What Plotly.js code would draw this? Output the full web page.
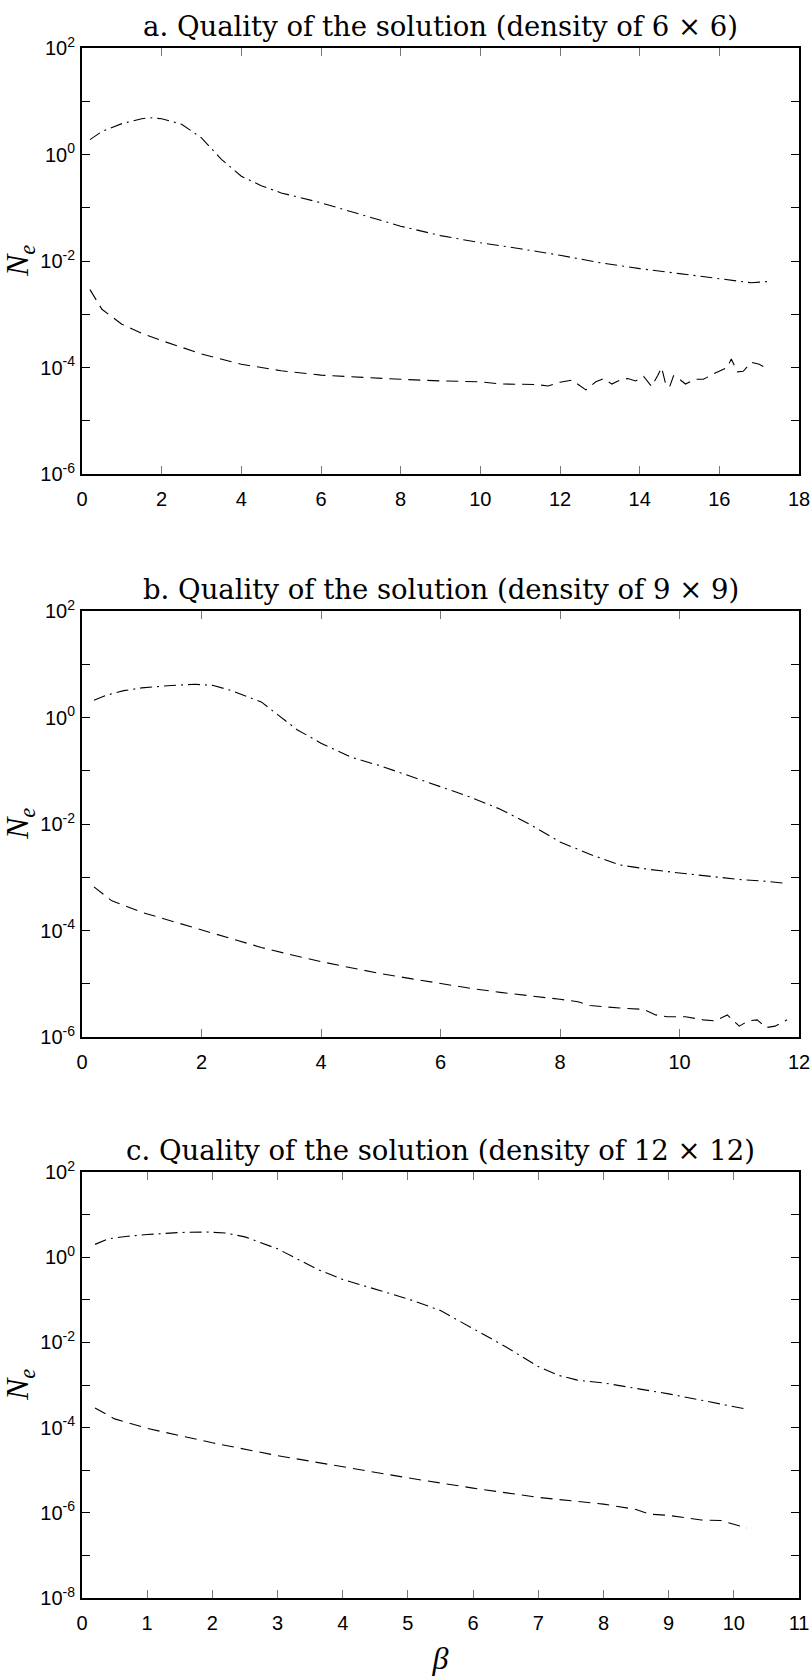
<!DOCTYPE html>
<html>
<head>
<meta charset="utf-8">
<script src="https://cdn.plot.ly/plotly-3.0.1.min.js"></script>
<style>
  html, body { margin: 0; padding: 0; background: #fff; }
  #chart { width: 812px; height: 1677px; }
</style>
</head>
<body>
<div id="chart"></div>
<script>
// ---------------- data ----------------
const titles = [
  "a. Quality of the solution (density of 6 \u00d7 6)",
  "b. Quality of the solution (density of 9 \u00d7 9)",
  "c. Quality of the solution (density of 12 \u00d7 12)"
];
const yTitle = '<i>N<sub>e</sub></i>';
const xTitle = '<i>\u03b2</i>';

// (a) density 6x6
const betaA_dashdot = [0.2,0.5,1.0,1.5,1.7,2.0,2.5,3.0,3.5,4.0,4.5,5.0,6,7,8,9,10,11,12,13,14,15,16,16.8,17.2];
const neA_dashdot   = [1.9,2.7,3.8,4.7,4.9,4.7,3.7,2.05,0.81,0.39,0.26,0.19,0.124,0.075,0.045,0.030,0.022,0.017,0.0128,0.0093,0.0072,0.0058,0.0047,0.0039,0.0041];

const betaA_dash = [0.2,0.5,1,1.5,2,3,4,5,6,7,8,9,10,10.5,11.0,11.4,11.7,12.0,12.3,12.5,12.65,12.9,13.1,13.3,13.5,13.7,13.9,14.1,14.3,14.45,14.55,14.65,14.75,14.85,15.0,15.15,15.4,15.6,15.9,16.2,16.3,16.45,16.6,16.8,17.0,17.2];
const neA_dash   = [2.9e-3,1.24e-3,6.5e-4,4.4e-4,3.2e-4,1.8e-4,1.15e-4,8.7e-5,7.2e-5,6.5e-5,6.0e-5,5.6e-5,5.4e-5,4.9e-5,4.9e-5,4.8e-5,4.5e-5,5.3e-5,5.8e-5,4.6e-5,3.8e-5,5.4e-5,6.2e-5,4.9e-5,5.8e-5,6.2e-5,5.6e-5,6.8e-5,4.4e-5,7.0e-5,1.0e-4,5.0e-5,4.3e-5,7.0e-5,6.0e-5,4.9e-5,6.0e-5,6.0e-5,7.9e-5,1.0e-4,1.45e-4,8.3e-5,8.5e-5,1.25e-4,1.15e-4,9.5e-5];

// (b) density 9x9
const betaB_dashdot = [0.2,0.4,0.7,1.0,1.5,1.9,2.2,2.5,3.0,3.3,3.6,4.0,4.5,5,5.5,6,6.5,7,7.5,8,8.5,9,9.5,10,10.5,11,11.5,11.8];
const neB_dashdot   = [2.1,2.6,3.2,3.6,4.0,4.2,4.0,3.2,1.96,1.08,0.59,0.33,0.18,0.123,0.079,0.05,0.032,0.019,0.0098,0.0046,0.0027,0.0017,0.0014,0.0012,0.00103,9.1e-4,8.3e-4,7.6e-4];

const betaB_dash = [0.2,0.5,1.0,1.5,2,2.5,3,3.5,4,4.5,5,5.5,6,6.5,7,7.5,8,8.3,8.5,9.0,9.4,9.6,9.8,10.1,10.4,10.6,10.8,11.0,11.15,11.3,11.45,11.6,11.8];
const neB_dash   = [6.6e-4,3.6e-4,2.2e-4,1.5e-4,1.0e-4,7.0e-5,4.8e-5,3.5e-5,2.6e-5,2.0e-5,1.55e-5,1.25e-5,1.0e-5,8.2e-6,6.9e-6,6.0e-6,5.1e-6,4.6e-6,3.9e-6,3.5e-6,3.3e-6,2.6e-6,2.4e-6,2.4e-6,2.1e-6,2.0e-6,2.6e-6,1.6e-6,2.0e-6,2.1e-6,1.5e-6,1.6e-6,2.1e-6];

// (c) density 12x12
const betaC_dashdot = [0.2,0.4,0.7,1.0,1.5,1.9,2.2,2.5,3.0,3.3,3.6,4.0,4.5,5.0,5.5,6.0,6.5,7.0,7.3,7.6,8.0,8.5,9.0,9.5,10.2];
const neC_dashdot   = [2.0,2.7,3.1,3.4,3.8,3.9,3.7,3.0,1.57,0.91,0.53,0.30,0.18,0.105,0.056,0.021,0.0079,0.0027,0.0017,0.0013,0.00112,8.3e-4,6.2e-4,4.4e-4,2.7e-4];

const betaC_dash = [0.2,0.5,1.0,1.5,2.0,3.0,4.0,5.0,6.0,7.0,8.0,8.5,8.7,9.0,9.5,9.8,10.2];
const neC_dash   = [2.9e-4,1.6e-4,9.6e-5,6.5e-5,4.4e-5,2.2e-5,1.2e-5,6.6e-6,3.8e-6,2.3e-6,1.6e-6,1.2e-6,9.3e-7,8.7e-7,6.8e-7,6.6e-7,4.4e-7];

// axis ranges / ticks
const xRanges = [[0,18],[0,12],[0,11]];
const xSteps  = [2,2,1];
const yExpRanges = [[-6,2],[-6,2],[-8,2]];

// ---------------- layout helpers ----------------
const W = 812, H = 1677;
const left = 82, right = 799;
const panelTops = [48, 611, 1172];
const panelH = 426;
const py = p => 1 - p / H;

const tickFont = {family: "'Liberation Sans Narrow', 'Arial Narrow', 'Liberation Sans', Arial, sans-serif", size: 20, color: '#000'};
const serif = "'Liberation Serif', 'Times New Roman', serif";

function yTicks(lo, hi) {
  const vals = [], text = [];
  for (let e = lo; e <= hi; e++) {
    vals.push(Math.pow(10, e));
    text.push((e - lo) % 2 === 0 ? '10<sup>' + e + '</sup>' : '');
  }
  return {vals, text};
}

const traces = [];
const series = [
  [betaA_dashdot, neA_dashdot, betaA_dash, neA_dash],
  [betaB_dashdot, neB_dashdot, betaB_dash, neB_dash],
  [betaC_dashdot, neC_dashdot, betaC_dash, neC_dash]
];
series.forEach((s, i) => {
  const xa = i === 0 ? 'x' : 'x' + (i + 1);
  const ya = i === 0 ? 'y' : 'y' + (i + 1);
  traces.push({x: s[0], y: s[1], xaxis: xa, yaxis: ya, type: 'scatter', mode: 'lines',
    line: {color: '#000', width: 1.1, dash: '12px,5px,2px,5px'}, hoverinfo: 'skip', showlegend: false});
  traces.push({x: s[2], y: s[3], xaxis: xa, yaxis: ya, type: 'scatter', mode: 'lines',
    line: {color: '#000', width: 1.1, dash: '12px,7px'}, hoverinfo: 'skip', showlegend: false});
});

const layout = {
  width: W, height: H,
  margin: {l: 0, r: 0, t: 0, b: 0},
  paper_bgcolor: '#fff', plot_bgcolor: '#fff',
  showlegend: false,
  annotations: []
};

for (let i = 0; i < 3; i++) {
  const sfx = i === 0 ? '' : String(i + 1);
  const top = panelTops[i], bot = top + panelH;
  const yt = yTicks(yExpRanges[i][0], yExpRanges[i][1]);
  layout['xaxis' + sfx] = {
    domain: [left / W, right / W],
    anchor: 'y' + sfx,
    range: xRanges[i],
    tickmode: 'linear', tick0: 0, dtick: xSteps[i],
    ticks: 'inside', ticklen: 8, tickwidth: 1, tickcolor: '#777',
    showline: true, linecolor: '#000', linewidth: 2, mirror: 'allticks',
    showgrid: false, zeroline: false,
    tickfont: tickFont, ticklabelstandoff: 6,
    fixedrange: true
  };
  layout['yaxis' + sfx] = {
    domain: [py(bot), py(top)],
    anchor: 'x' + sfx,
    type: 'log',
    range: yExpRanges[i],
    tickmode: 'array', tickvals: yt.vals, ticktext: yt.text,
    ticks: 'inside', ticklen: 8, tickwidth: 1, tickcolor: '#000',
    showline: true, linecolor: '#000', linewidth: 2, mirror: 'allticks',
    showgrid: false, zeroline: false,
    tickfont: tickFont, ticklabelstandoff: 1,
    fixedrange: true
  };
  // panel title
  layout.annotations.push({
    text: titles[i], xref: 'paper', yref: 'paper',
    x: (left + right) / 2 / W, y: py(top - 22),
    xanchor: 'center', yanchor: 'middle', showarrow: false,
    font: {family: "'DejaVu Serif', serif", size: 27.5, color: '#000'}
  });
  // y axis label N_e
  layout.annotations.push({
    text: yTitle, xref: 'paper', yref: 'paper',
    x: 19 / W, y: py(top + panelH / 2),
    xanchor: 'center', yanchor: 'middle', showarrow: false, textangle: -90,
    font: {family: serif, size: 32, color: '#000'}
  });
}
layout.xaxis3.title = {text: xTitle, font: {family: serif, size: 32, color: '#000'}, standoff: 14};

Plotly.newPlot('chart', traces, layout, {staticPlot: true, displayModeBar: false});
</script>
</body>
</html>
